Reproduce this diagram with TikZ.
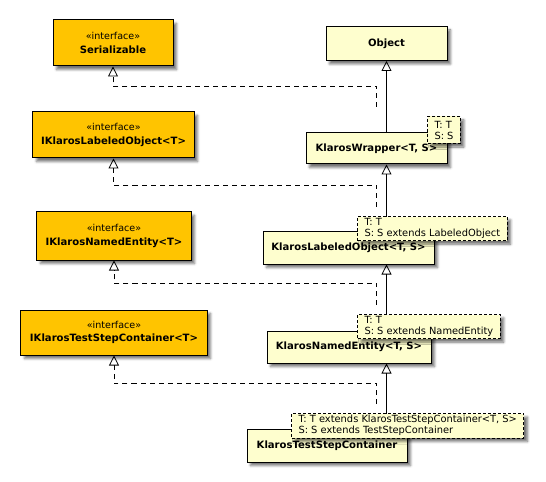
\documentclass[tikz,border=0pt]{standalone}
\usepackage{fontspec}
\setmainfont{DejaVu Sans}
\usetikzlibrary{arrows.meta,calc,shadows.blur}
\definecolor{ifacefill}{RGB}{255, 196, 0}
\definecolor{classfill}{RGB}{254, 254, 206}

\tikzset{
	umlbox/.style={draw=black, line width=1bp, inner sep=0pt, align=center,
		blur shadow={shadow xshift=3.5bp, shadow yshift=-3.5bp, shadow blur steps=5, shadow blur radius=2.5bp, shadow opacity=55}},
	ifacebox/.style={umlbox, fill=ifacefill, font=\fontsize{9.6}{13.5}\selectfont},
	classbox/.style={umlbox, fill=classfill, font=\bfseries\fontsize{10.1}{12}\selectfont},
	parambox/.style={umlbox, fill=classfill, dashed, dash pattern=on 3bp off 2bp, align=left, anchor=north west,
		inner xsep=7bp, inner ysep=2bp, minimum height=24bp, font=\fontsize{9.9}{11}\selectfont},
	extends/.style={draw, line width=0.8bp, -{Triangle[open, length=10bp, width=10bp]}},
	realizes/.style={extends, dash pattern=on 5bp off 4bp}
}

\begin{document}
\begin{tikzpicture}[x=1bp, y=-1bp]
			\useasboundingbox (0, 0) rectangle (546, 482);

			\node [ifacebox, minimum width=120bp, minimum height=46bp] (ser) at (113, 43) {«interface»\\\textbf{\fontsize{10.1}{12}\selectfont Serializable}};
			\node [ifacebox, minimum width=161bp, minimum height=46bp] (ilab) at (113.5, 135) {«interface»\\\textbf{\fontsize{10.1}{12}\selectfont IKlarosLabeledObject<T>}};
			\node [ifacebox, minimum width=154bp, minimum height=48bp] (iname) at (114, 236) {«interface»\\\textbf{\fontsize{10.1}{12}\selectfont IKlarosNamedEntity<T>}};
			\node [ifacebox, minimum width=186bp, minimum height=45bp] (itsc) at (114, 332.5) {«interface»\\\textbf{\fontsize{10.1}{12}\selectfont IKlarosTestStepContainer<T>}};

			\node [classbox, minimum width=121bp, minimum height=34bp] (obj) at (386.5, 43.5) {Object};
			\node [classbox, minimum width=141bp, minimum height=31bp] (wrap) at (376.5, 148.5) {KlarosWrapper<T, S>};
			\node [classbox, minimum width=171bp, minimum height=33bp] (lab) at (348.5, 247.5) {KlarosLabeledObject<T, S>};
			\node [classbox, minimum width=164bp, minimum height=32bp] (name) at (349, 347) {KlarosNamedEntity<T, S>};
			\node [classbox, minimum width=160bp, minimum height=33bp] (tsc) at (327, 445.5) {KlarosTestStepContainer};

			\draw [extends] (wrap.north -| obj.south) -- (obj.south);
			\draw [extends] (lab.north -| obj.south) -- (wrap.south -| obj.south);
			\draw [extends] (name.north -| obj.south) -- (lab.south -| obj.south);
			\draw [extends] (tsc.north -| obj.south) -- (name.south -| obj.south);

			\node [parambox, minimum height=27bp] (wrapT) at (427, 116) {T: T\\S: S};
			\node [parambox] (labT) at (357, 216) {T: T\\S: S extends LabeledObject};
			\node [parambox] (nameT) at (357, 314) {T: T\\S: S extends NamedEntity};
			\node [parambox] (tscT) at (291, 413) {T: T extends KlarosTestStepContainer<T, S>\\S: S extends TestStepContainer};

			\draw [realizes] ($(obj.south |- wrapT.north) + (-10, -9)$) -- ++(0, -21) -| (ser.south);
			\draw [realizes] ($(obj.south |- labT.north) + (-10, -9)$) -- ++(0, -22) -| (ilab.south);
			\draw [realizes] ($(obj.south |- nameT.north) + (-10, -9)$) -- ++(0, -22) -| (iname.south);
			\draw [realizes] ($(obj.south |- tscT.north) + (-10, -9)$) -- ++(0, -21) -| (itsc.south);
		\end{tikzpicture}
\end{document}
